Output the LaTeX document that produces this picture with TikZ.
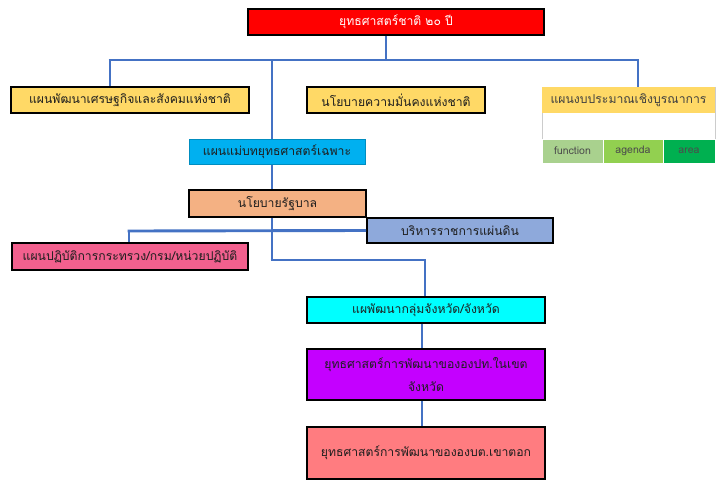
\documentclass[tikz,border=0pt]{standalone}
\usepackage{fontspec}
\newfontfamily\thai[Script=Thai]{Loma}
\definecolor{cRed}{HTML}{FF0000}
\definecolor{cGold}{HTML}{FFD966}
\definecolor{cSky}{HTML}{00B0F0}
\definecolor{cPeach}{HTML}{F4B183}
\definecolor{cPeri}{HTML}{8EA9DB}
\definecolor{cPink}{HTML}{F2608E}
\definecolor{cCyan}{HTML}{00FFFF}
\definecolor{cPurple}{HTML}{C400FF}
\definecolor{cSalmon}{HTML}{FF7C80}
\definecolor{cLine}{HTML}{4472C4}
\definecolor{cG1}{HTML}{A9D18E}
\definecolor{cG2}{HTML}{92D050}
\definecolor{cG3}{HTML}{00B050}
\definecolor{cTxt}{HTML}{1E1E1E}
\begin{document}
\begin{tikzpicture}[x=1pt,y=-1pt,
  box/.style={draw=black, line width=1.6pt, inner sep=0pt, minimum height=26pt,
    font=\thai\fontsize{12.2}{15}\selectfont, text=cTxt, align=center},
  cell/.style={draw=white, line width=0.8pt, inner sep=0pt, minimum height=24pt,
    font=\thai\fontsize{10.5}{12}\selectfont, text=black!70},
  conn/.style={draw=cLine, line width=2.9pt}]
\useasboundingbox[fill=white] (0,0) rectangle (726,488);

% nodes
\node[box, fill=cRed, text=white, minimum width=296pt] (top) at (396,22) {ยุทธศาสตร์ชาติ ๒๐ ปี};
\node[box, fill=cGold, minimum width=238pt] (econ) at (130,100) {แผนพัฒนาเศรษฐกิจและสังคมแห่งชาติ};
\node[box, fill=cGold, minimum width=178pt] (sec) at (396,100) {นโยบายความมั่นคงแห่งชาติ};

% budget block
\node[draw=black!20, line width=0.6pt, fill=white, minimum width=173pt, minimum height=76pt, inner sep=0pt] (bud) at (628.5,125) {};
\node[fill=cGold, inner sep=0pt, minimum width=173pt, minimum height=26pt,
  font=\thai\fontsize{12.2}{15}\selectfont, text=black!75] (bhead) at (628.5,100) {แผนงบประมาณเชิงบูรณาการ};
\node[cell, fill=cG1, minimum width=61pt] (fn) at (572.5,151) {function};
\node[cell, fill=cG2, minimum width=60pt] (ag) at (633,151) {agenda};
\node[cell, fill=cG3, minimum width=52pt] (ar) at (689,151) {area};

\node[box, draw=cSky!80!black, line width=0.8pt, fill=cSky, minimum width=176pt, minimum height=25pt] (master) at (277,152) {แผนแม่บทยุทธศาสตร์เฉพาะ};
\node[box, fill=cPeach, minimum width=177pt, minimum height=27pt] (gov) at (277.5,203.5) {นโยบายรัฐบาล};
\node[box, fill=cPeri, minimum width=186pt, minimum height=25pt] (admin) at (460,230.5) {บริหารราชการแผ่นดิน};
\node[box, fill=cPink, minimum width=236pt, minimum height=27pt] (action) at (130,256.5) {แผนปฏิบัติการกระทรวง/กรม/หน่วยปฏิบัติ};
\node[box, fill=cCyan, minimum width=238pt] (prov) at (426,310) {แผพัฒนากลุ่มจังหวัด/จังหวัด};
\node[box, fill=cPurple, minimum width=238pt, minimum height=51pt, font=\thai\fontsize{12.2}{23}\selectfont] (lao) at (426,374.5) {ยุทธศาสตร์การพัฒนาขององปท.ในเขต\\จังหวัด};
\node[box, fill=cSalmon, minimum width=238pt, minimum height=52pt] (tao) at (426,453) {ยุทธศาสตร์การพัฒนาขององบต.เขาตอก};

% connector coordinates
\coordinate (busTop) at (386,60);
\coordinate (busL) at (110,60);
\coordinate (busR) at (638,60);
\coordinate (busM) at (272,60);
\coordinate (j2L) at (129,231);
\coordinate (j3) at (272,260);
\coordinate (j3R) at (425,260);
\coordinate (spine) at (422,0);

\begin{scope}[line cap=butt]
\draw[conn] (busTop |- top.south) -- (busTop);
\draw[conn] ([xshift=-1.45pt]busL) -- ([xshift=1.45pt]busR);
\draw[conn] (busL) -- (busL |- econ.north);
\draw[conn] (busR) -- (busR |- bhead.north);
\draw[conn] (busM) -- (busM |- master.north);
\draw[conn] (busM |- master.south) -- (busM |- gov.north);
\draw[conn] ([xshift=-1.45pt]j2L) -- (admin.west);
\draw[conn] (j2L) -- (j2L |- action.north);
\draw[conn] (busM |- gov.south) -- ([yshift=1.45pt]j3);
\draw[conn] ([xshift=-1.45pt]j3) -- ([xshift=1.45pt]j3R);
\draw[conn] (j3R) -- (j3R |- prov.north);
\draw[conn] (spine |- prov.south) -- (spine |- lao.north);
\draw[conn] (spine |- lao.south) -- (spine |- tao.north);
\end{scope}
\end{tikzpicture}
\end{document}
